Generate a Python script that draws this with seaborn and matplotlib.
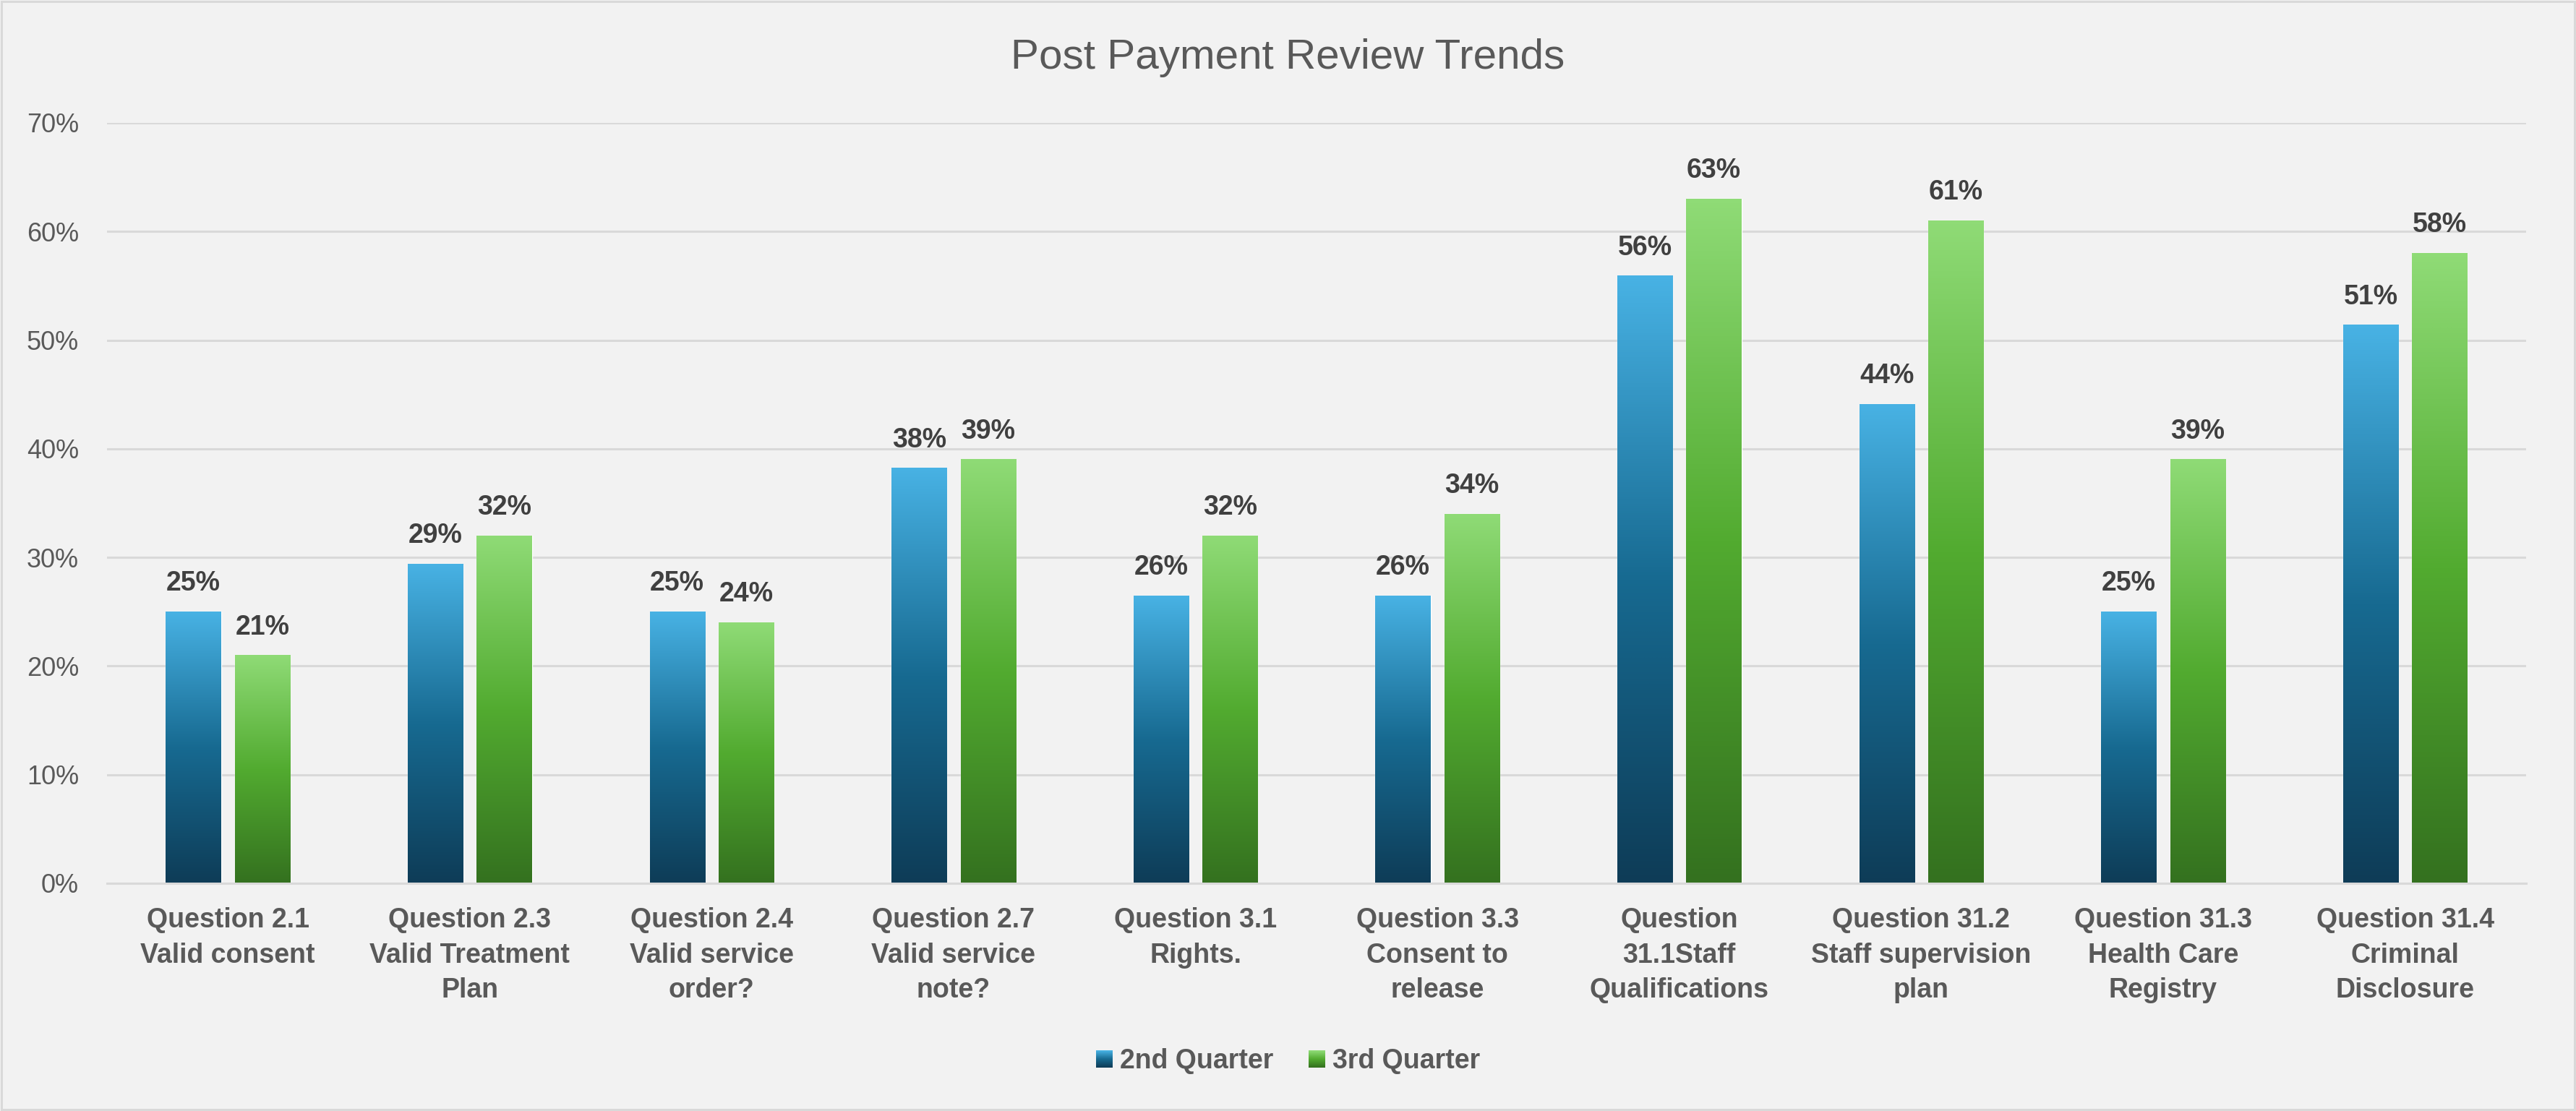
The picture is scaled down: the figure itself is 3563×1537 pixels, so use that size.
import matplotlib
matplotlib.use('Agg')
import matplotlib.pyplot as plt
import numpy as np
import pandas as pd
import seaborn as sns
from matplotlib.colors import LinearSegmentedColormap
from matplotlib.legend_handler import HandlerBase
from matplotlib.patches import Patch, Rectangle

questions = [
    'Question 2.1\nValid consent',
    'Question 2.3\nValid Treatment\nPlan',
    'Question 2.4\nValid service\norder?',
    'Question 2.7\nValid service\nnote?',
    'Question 3.1\nRights.',
    'Question 3.3\nConsent to\nrelease',
    'Question\n31.1Staff\nQualifications',
    'Question 31.2\nStaff supervision\nplan',
    'Question 31.3\nHealth Care\nRegistry',
    'Question 31.4\nCriminal\nDisclosure',
]
q2 = [0.25, 0.294, 0.25, 0.382, 0.2647, 0.2647, 0.559, 0.441, 0.25, 0.514]
q3 = [0.21, 0.32, 0.24, 0.39, 0.32, 0.34, 0.63, 0.61, 0.39, 0.58]
quarters = ['2nd Quarter', '3rd Quarter']
y_ticks = [0, 0.1, 0.2, 0.3, 0.4, 0.5, 0.6, 0.7]

# gradient stops: bottom, middle, top
blue_stops = ['#0E3C57', '#176A91', '#48B2E4']
green_stops = ['#34711F', '#52AB30', '#8FDB76']

BG = '#F2F2F2'
GRID = '#D9D9D9'
TXT = '#595959'


class GradientHandler(HandlerBase):
    def __init__(self, cmap, n=24):
        super().__init__()
        self.cmap = cmap
        self.n = n

    def create_artists(self, legend, orig_handle, xdescent, ydescent,
                       width, height, fontsize, trans):
        arts = []
        h = height / self.n
        for i in range(self.n):
            r = Rectangle((-xdescent, -ydescent + i * h), width, h * 1.02,
                          facecolor=self.cmap(i / (self.n - 1)),
                          edgecolor='none', linewidth=0, transform=trans)
            arts.append(r)
        return arts


def main():
    sns.set_style('white')
    plt.rcParams['font.family'] = ['Liberation Sans', 'DejaVu Sans']

    df = pd.DataFrame({
        'question': questions * 2,
        'value': q2 + q3,
        'quarter': [quarters[0]] * len(q2) + [quarters[1]] * len(q3),
    })

    cmaps = [LinearSegmentedColormap.from_list('b', blue_stops),
             LinearSegmentedColormap.from_list('g', green_stops)]

    fig = plt.figure(figsize=(35.63, 15.37), dpi=100, facecolor=BG)
    ax = fig.add_axes([0.0415, 0.2050, 0.9391, 0.6844])
    ax.set_facecolor(BG)

    sns.barplot(data=df, x='question', y='value', hue='quarter',
                palette=[blue_stops[1], green_stops[1]], width=0.57, gap=0.2,
                ax=ax, legend=False, saturation=1, zorder=3)

    # gradient fill per bar
    grad = np.linspace(0, 1, 256)[:, None]
    for cont, cmap in zip(ax.containers, cmaps):
        for bar in cont:
            x0, y0 = bar.get_x(), bar.get_y()
            w, h = bar.get_width(), bar.get_height()
            ax.imshow(grad, cmap=cmap, origin='lower', aspect='auto',
                      extent=[x0, x0 + w, y0, y0 + h], zorder=3,
                      interpolation='bilinear')
            bar.set_facecolor('none')
        vals = [b.get_height() for b in cont]
        ax.bar_label(cont, labels=[f'{v:.0%}' for v in vals], padding=15,
                     fontsize=27, fontweight='bold', color='#404040')

    ax.set_xlim(-0.5, len(questions) - 0.5)
    ax.set_ylim(0, 0.7)
    ax.set_yticks(y_ticks)
    ax.set_yticklabels([f'{t:.0%}' for t in y_ticks], fontsize=26, color=TXT)
    ax.set_xticks(range(len(questions)))
    ax.set_xticklabels(questions, fontsize=27, fontweight='bold', color=TXT,
                       linespacing=1.45)
    ax.tick_params(axis='y', length=0, pad=28)
    ax.tick_params(axis='x', length=0, pad=24)
    ax.set_xlabel('')
    ax.set_ylabel('')

    ax.yaxis.grid(True, color=GRID, linewidth=2.2)
    ax.set_axisbelow(True)
    for s in ['top', 'right', 'left']:
        ax.spines[s].set_visible(False)
    ax.spines['bottom'].set_color(GRID)
    ax.spines['bottom'].set_linewidth(2.2)
    ax.spines['bottom'].set_zorder(4)

    fig.text(0.5, 0.938, 'Post Payment Review Trends', ha='center',
             va='baseline', fontsize=42, color=TXT)

    handles = [Patch(label=q) for q in quarters]
    hmap = {h: GradientHandler(c) for h, c in zip(handles, cmaps)}
    leg = fig.legend(handles=handles, handler_map=hmap, loc='center',
                     bbox_to_anchor=(0.5, 0.045), ncol=2, frameon=False,
                     handlelength=0.61, handleheight=0.61,
                     handletextpad=0.27, columnspacing=1.3,
                     prop={'size': 27, 'weight': 'bold'})
    for t in leg.get_texts():
        t.set_color(TXT)

    fig.patches.append(Rectangle((0.0005, 0.001), 0.999, 0.998,
                                 transform=fig.transFigure, fill=False,
                                 edgecolor=GRID, linewidth=2.2))

    fig.savefig('out.png', dpi=100, facecolor=BG)


if __name__ == '__main__':
    main()
